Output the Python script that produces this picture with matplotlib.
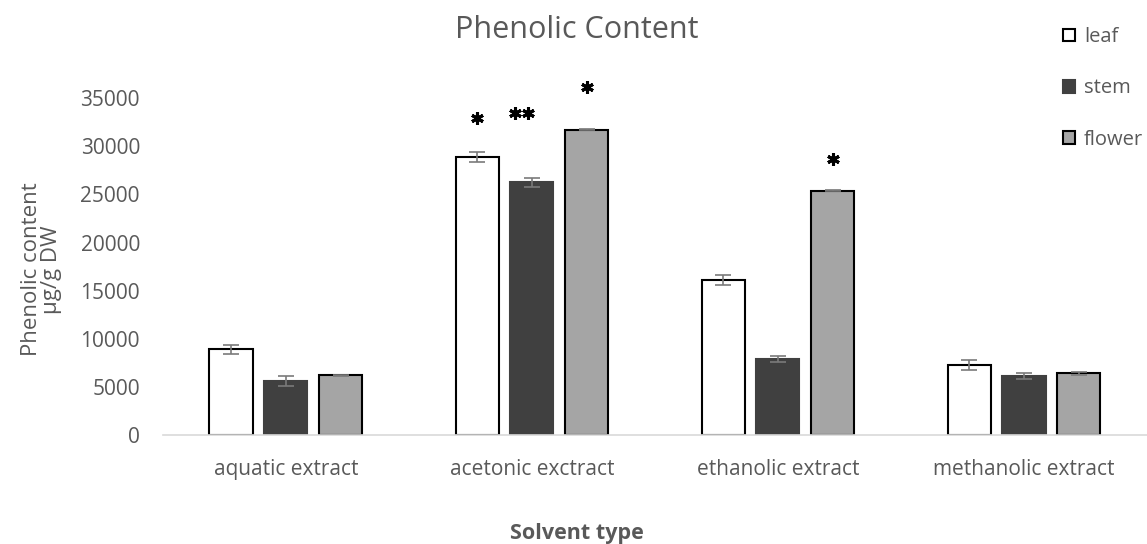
import matplotlib
matplotlib.use("Agg")
import matplotlib.pyplot as plt
import matplotlib.transforms as mtransforms
import numpy as np

categories = ["aquatic extract", "acetonic exctract", "ethanolic extract", "methanolic extract"]
series = ["leaf", "stem", "flower"]
leaf = [8900, 28900, 16100, 7270]
stem = [5600, 26270, 7920, 6130]
flower = [6230, 31750, 25400, 6400]
leaf_err = [500, 550, 500, 500]
stem_err = [500, 450, 300, 280]
flower_err = [50, 60, 60, 120]
# significance marks: number of asterisks and their heights
leaf_sig = [0, 1, 0, 0]
stem_sig = [0, 2, 0, 0]
flower_sig = [0, 1, 1, 0]
leaf_sig_y = [0, 32950, 0, 0]
stem_sig_y = [0, 33470, 0, 0]
flower_sig_y = [0, 36170, 28700, 0]
yticks = [0, 5000, 10000, 15000, 20000, 25000, 30000, 35000]

plt.rcParams['font.family'] = ['Open Sans', 'DejaVu Sans']
grey = "#595959"

fig = plt.figure(figsize=(11.47, 5.44), dpi=100)
ax = fig.add_axes([0.142, 0.2004, 0.858, 0.6189])

x = np.arange(len(categories))
w = 0.175
step = 0.223
facecolors = ["#ffffff", "#404040", "#a5a5a5"]
edgecolors = ["#000000", "#404040", "#000000"]
data = [leaf, stem, flower]
errs = [leaf_err, stem_err, flower_err]
sigs = [leaf_sig, stem_sig, flower_sig]
sig_ys = [leaf_sig_y, stem_sig_y, flower_sig_y]
handles = []
for i in range(3):
    pos = x + (i - 1) * step
    b = ax.bar(pos, data[i], w, color=facecolors[i], edgecolor=edgecolors[i],
               linewidth=1.5, label=series[i], zorder=2)
    handles.append(b)
    ax.errorbar(pos, data[i], yerr=errs[i], fmt="none", ecolor="#7a7a7a",
                elinewidth=1.2, capsize=6, capthick=1.2, zorder=3)
    for p, n, yy in zip(pos, sigs[i], sig_ys[i]):
        if n == 0:
            continue
        offsets = [0.0] if n == 1 else [-16.5, -3.5]
        for off in offsets:
            tr = mtransforms.offset_copy(ax.transData, fig=fig, x=off, y=0, units="dots")
            ax.plot([p], [yy], linestyle="none", marker=(6, 2, 0), markersize=9,
                    markeredgewidth=2.2, color="black", transform=tr, clip_on=False,
                    zorder=4)

ax.set_xlim(-0.5, 3.5)
ax.set_ylim(0, 35000)
ax.set_yticks(yticks)
ax.set_yticklabels([str(t) for t in yticks])
ax.set_xticks(x)
ax.set_xticklabels(categories)
ax.tick_params(axis="both", length=0, labelsize=15, colors=grey)
ax.tick_params(axis="y", pad=16.5)
ax.tick_params(axis="x", pad=17)
for s in ["top", "right", "left"]:
    ax.spines[s].set_visible(False)
ax.spines["bottom"].set_color("#d9d9d9")
ax.spines["bottom"].set_linewidth(1.2)

fig.text(0.5026, 0.945, "Phenolic Content", ha="center", va="center", fontsize=22, color=grey)
fig.text(0.0365, 0.505, "Phenolic content\nµg/g DW", ha="center", va="center",
         rotation=90, fontsize=16, color=grey, linespacing=0.95)
fig.text(0.5026, 0.02, "Solvent type", ha="center", va="center", fontsize=15.5,
         fontweight="bold", color=grey)

leg = fig.legend(handles=handles, labels=series, loc="upper left",
                 bbox_to_anchor=(0.9144, 0.976), frameon=False, fontsize=14.5,
                 labelspacing=1.55, handlelength=0.6, handleheight=0.6,
                 handletextpad=0.45, labelcolor=grey, borderaxespad=0.3)

fig.savefig("out.png", dpi=100)
